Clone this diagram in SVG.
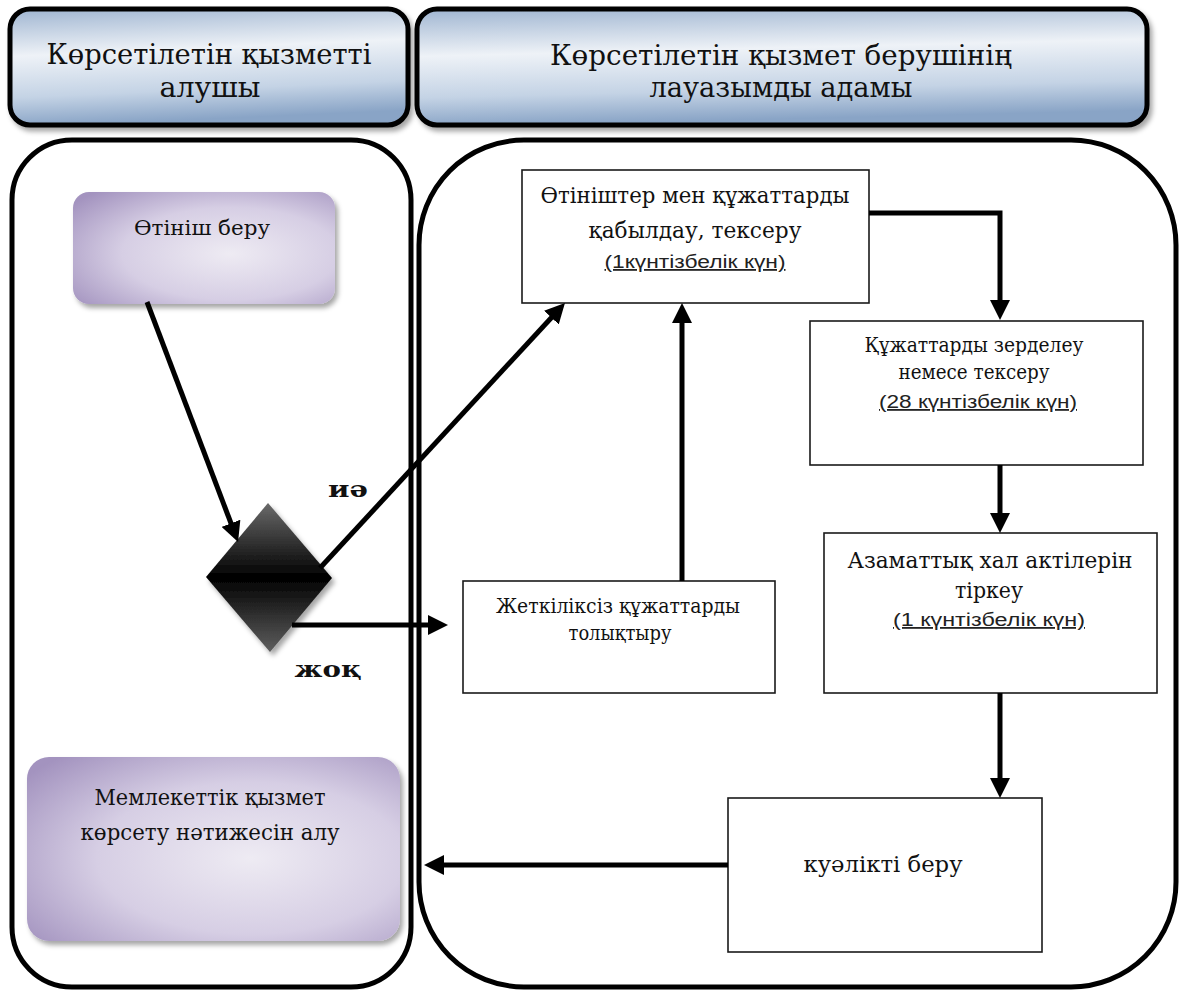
<svg xmlns="http://www.w3.org/2000/svg" width="1183" height="996" viewBox="0 0 1183 996">
<style>
.lane{fill:#fff;stroke:#000;stroke-width:5}
.hdr{fill:url(#hdrGrad);stroke:#000;stroke-width:5;filter:url(#shadow)}
.purple{fill:url(#purpleGrad);stroke:none;filter:url(#shadow)}
.box{fill:#fff;stroke:#1a1a1a;stroke-width:1.6}
.conn{fill:none;stroke:#000;stroke-width:5}
.t{font-family:"DejaVu Serif","Liberation Serif",serif;fill:#111;text-anchor:middle}
.s{font-family:"Liberation Sans","DejaVu Sans",sans-serif;fill:#222;text-anchor:middle;text-decoration:underline}
.b{font-family:"DejaVu Serif","Liberation Serif",serif;font-weight:bold;fill:#111;text-anchor:middle}
</style>
<defs>
<linearGradient id="hdrGrad" x1="0" y1="0" x2="0.15" y2="1">
<stop offset="0" stop-color="#9fb5d1"/>
<stop offset="0.4" stop-color="#eef2f7"/>
<stop offset="0.75" stop-color="#c4d3e5"/>
<stop offset="1" stop-color="#89a4c6"/>
</linearGradient>
<radialGradient id="purpleGrad" cx="0.6" cy="0.55" r="0.75">
<stop offset="0" stop-color="#eeebf3"/>
<stop offset="0.55" stop-color="#d6cee4"/>
<stop offset="1" stop-color="#a393bf"/>
</radialGradient>
<linearGradient id="diaGrad" x1="0" y1="0" x2="0" y2="1">
<stop offset="0" stop-color="#6a6a6a"/>
<stop offset="0.5" stop-color="#000"/>
<stop offset="1" stop-color="#5e5e5e"/>
</linearGradient>
<filter id="shadow" x="-10%" y="-10%" width="125%" height="130%">
<feDropShadow dx="3" dy="4" stdDeviation="2.5" flood-color="#000" flood-opacity="0.35"/>
</filter>
<marker id="arr" viewBox="0 0 20 20" refX="4" refY="10" markerWidth="20" markerHeight="20" markerUnits="userSpaceOnUse" orient="auto">
<path d="M0,0 L20,10 L0,20 z" fill="#000"/>
</marker>
</defs>

<g id="header-left">
<rect class="hdr" x="10" y="9" width="398" height="116" rx="20"/>
<text class="t" x="209" y="64" font-size="28" textLength="325" lengthAdjust="spacingAndGlyphs">Көрсетілетін қызметті</text>
<text class="t" x="210" y="97" font-size="28" textLength="101" lengthAdjust="spacingAndGlyphs">алушы</text>
</g>
<g id="header-right">
<rect class="hdr" x="417" y="9" width="730" height="116" rx="20"/>
<text class="t" x="781" y="65" font-size="28" textLength="462" lengthAdjust="spacingAndGlyphs">Көрсетілетін қызмет берушінің</text>
<text class="t" x="781" y="97" font-size="28" textLength="263" lengthAdjust="spacingAndGlyphs">лауазымды адамы</text>
</g>

<g id="lane-left">
<rect class="lane" x="12" y="140" width="399" height="847" rx="60"/>
</g>
<g id="lane-right">
<rect class="lane" x="419" y="140" width="757" height="847" rx="105"/>
</g>

<g id="node-submit">
<rect class="purple" x="73" y="192" width="262" height="112" rx="16"/>
<text class="t" x="202" y="235" font-size="20" textLength="136" lengthAdjust="spacingAndGlyphs">Өтініш беру</text>
</g>

<g id="node-receive">
<rect class="box" x="522" y="170" width="347" height="133"/>
<text class="t" x="695" y="203" font-size="23" textLength="309" lengthAdjust="spacingAndGlyphs">Өтініштер мен құжаттарды</text>
<text class="t" x="695" y="238" font-size="23" textLength="213" lengthAdjust="spacingAndGlyphs">қабылдау, тексеру</text>
<text class="s" x="695" y="268" font-size="18" textLength="181" lengthAdjust="spacingAndGlyphs">(1күнтізбелік күн)</text>
</g>

<g id="node-study">
<rect class="box" x="810" y="321" width="333" height="144"/>
<text class="t" x="974" y="352" font-size="20" textLength="219" lengthAdjust="spacingAndGlyphs">Құжаттарды зерделеу</text>
<text class="t" x="974" y="379" font-size="20" textLength="151" lengthAdjust="spacingAndGlyphs">немесе тексеру</text>
<text class="s" x="978" y="408" font-size="18" textLength="198" lengthAdjust="spacingAndGlyphs"> (28 күнтізбелік күн)</text>
</g>

<g id="node-register">
<rect class="box" x="824" y="533" width="333" height="160"/>
<text class="t" x="990" y="568" font-size="23" textLength="285" lengthAdjust="spacingAndGlyphs">Азаматтық хал актілерін</text>
<text class="t" x="989" y="598" font-size="23" textLength="68" lengthAdjust="spacingAndGlyphs">тіркеу</text>
<text class="s" x="989" y="626" font-size="18" textLength="192" lengthAdjust="spacingAndGlyphs"> (1 күнтізбелік күн)</text>
</g>

<g id="node-issue">
<rect class="box" x="728" y="798" width="314" height="154"/>
<text class="t" x="883" y="872" font-size="22" textLength="159" lengthAdjust="spacingAndGlyphs">куәлікті беру</text>
</g>

<g id="node-complete">
<rect class="box" x="463" y="581" width="312" height="112"/>
<text class="t" x="618" y="613" font-size="20" textLength="244" lengthAdjust="spacingAndGlyphs">Жеткіліксіз құжаттарды</text>
<text class="t" x="620" y="640" font-size="20" textLength="103" lengthAdjust="spacingAndGlyphs">толықтыру</text>
</g>

<g id="node-decision">
<polygon points="268,503 332,578 270,652 206,577" fill="url(#diaGrad)" filter="url(#shadow)"/>
</g>

<g id="node-result">
<rect class="purple" x="27" y="757" width="373" height="184" rx="22"/>
<text class="t" x="210" y="805" font-size="22" textLength="231" lengthAdjust="spacingAndGlyphs">Мемлекеттік қызмет</text>
<text class="t" x="210" y="840" font-size="22" textLength="259" lengthAdjust="spacingAndGlyphs">көрсету нәтижесін алу</text>
</g>

<g id="connectors">
<line class="conn" x1="147" y1="302" x2="232.4" y2="527" marker-end="url(#arr)"/>
<line class="conn" x1="320" y1="568" x2="554.1" y2="314.7" marker-end="url(#arr)"/>
<line class="conn" x1="292" y1="625" x2="432" y2="625" marker-end="url(#arr)"/>
<line class="conn" x1="682" y1="581" x2="682" y2="319" marker-end="url(#arr)"/>
<path class="conn" d="M869,213 H1000 V304" marker-end="url(#arr)"/>
<line class="conn" x1="1000" y1="465" x2="1000" y2="517" marker-end="url(#arr)"/>
<line class="conn" x1="1000" y1="693" x2="1000" y2="782" marker-end="url(#arr)"/>
<line class="conn" x1="728" y1="865" x2="440" y2="865" marker-end="url(#arr)"/>
<text class="b" x="348" y="497" font-size="22" textLength="40" lengthAdjust="spacingAndGlyphs">иә</text>
<text class="b" x="328" y="677" font-size="22" textLength="67" lengthAdjust="spacingAndGlyphs">жоқ</text>
</g>
</svg>
